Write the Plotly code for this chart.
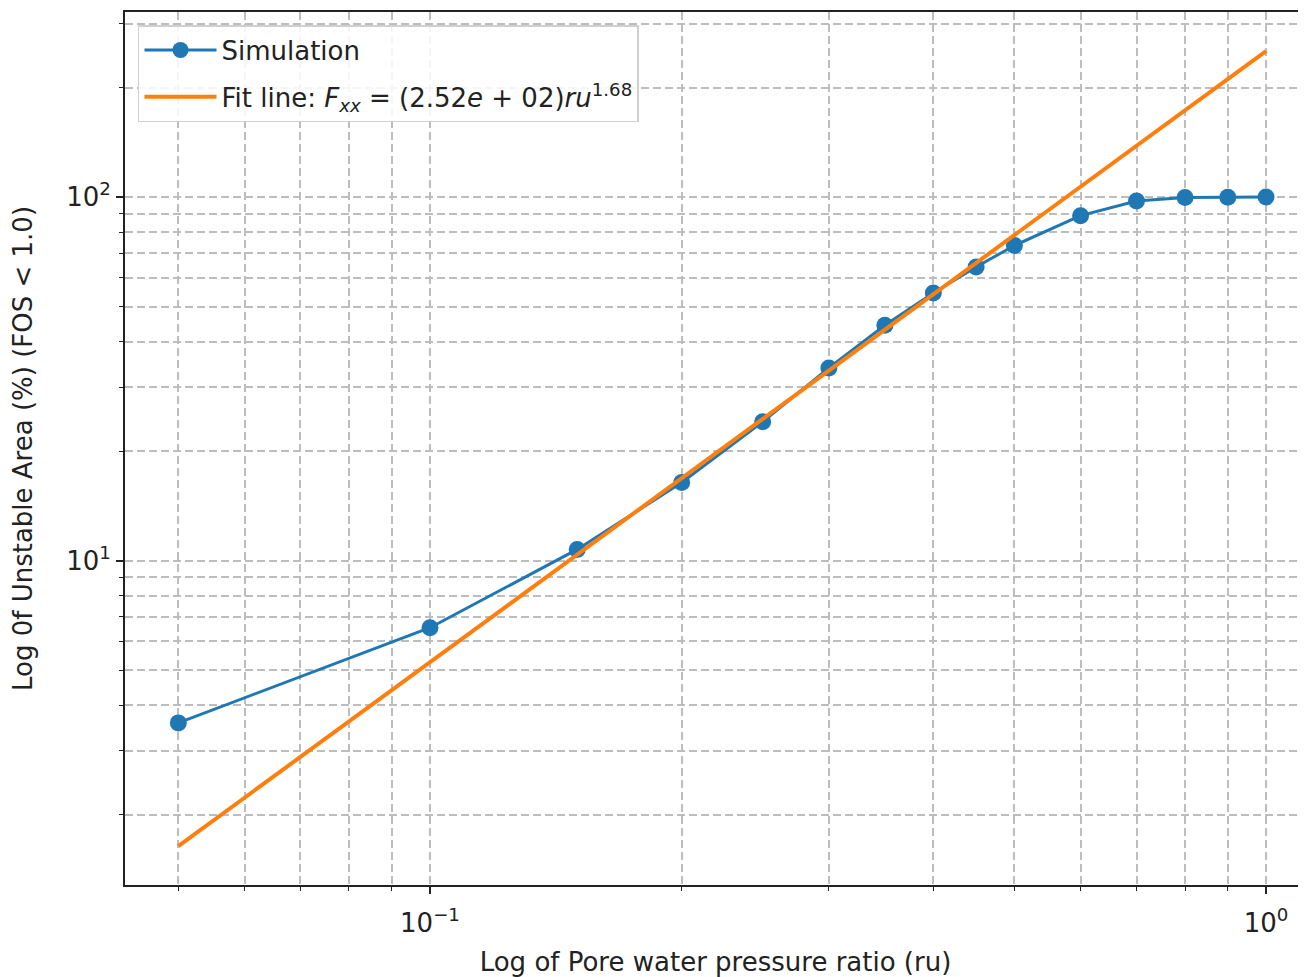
import plotly.graph_objects as go

# ---- data ----
ru = [0.05, 0.10, 0.15, 0.20, 0.25, 0.30, 0.35, 0.40, 0.45, 0.50, 0.60, 0.70, 0.80, 0.90, 1.00]
unstable_area = [3.58, 6.54, 10.74, 16.4, 24.1, 33.9, 44.4, 54.5, 64.2, 73.6, 88.9, 97.5, 99.8, 99.9, 100.0]
fit_x = [0.05, 1.00]
fit_y = [1.64, 252.0]

x_major = [0.1, 1.0]
x_major_text = ["10<sup>−1</sup>", "10<sup>0</sup>"]
x_minor = [0.05, 0.06, 0.07, 0.08, 0.09, 0.2, 0.3, 0.4, 0.5, 0.6, 0.7, 0.8, 0.9]
y_major = [10, 100]
y_major_text = ["10<sup>1</sup>", "10<sup>2</sup>"]
y_minor = [2, 3, 4, 5, 6, 7, 8, 9, 20, 30, 40, 50, 60, 70, 80, 90, 200, 300]

FONT = "DejaVu Sans"
TXT = "#222222"
GRID = "#bdbdbd"
DASH = "8px,4px"
FS = 26

fig = go.Figure()
fig.add_trace(go.Scatter(
    x=ru, y=unstable_area, mode="lines+markers", name="Simulation",
    legendgroup="sim",
    line=dict(color="#1f77b4", width=3),
    marker=dict(color="#1f77b4", size=17),
))
fig.add_trace(go.Scatter(
    x=fit_x, y=fit_y, mode="lines",
    legendgroup="fit",
    name="Fit line: <i>F<sub>xx</sub></i> = (2.52<i>e</i> + 02)<i>ru</i><sup>1.68</sup>",
    line=dict(color="#ff7f0e", width=4),
))

fig.update_layout(
    width=1298, height=969,
    margin=dict(l=117, r=0, t=4, b=92),
    paper_bgcolor="white", plot_bgcolor="white",
    font=dict(family=FONT, size=FS, color=TXT),
    showlegend=True,
    legend=dict(
        x=0.011, y=0.985, xanchor="left", yanchor="top",
        bgcolor="rgba(255,255,255,0.85)", bordercolor="#d0d0d0", borderwidth=1.5,
        font=dict(family=FONT, size=FS, color=TXT),
        itemwidth=72, tracegroupgap=10,
    ),
)

fig.update_xaxes(
    type="log", range=[-1.3648, 0.0478],
    tickmode="array", tickvals=x_major, ticktext=x_major_text,
    ticks="outside", ticklen=7, tickwidth=1.5, tickcolor="#222",
    ticklabelstandoff=7,
    showline=True, linecolor="#222", linewidth=2, mirror=True,
    showgrid=True, gridcolor=GRID, gridwidth=1.5, griddash=DASH,
    minor=dict(tickvals=x_minor, ticks="outside", ticklen=4, tickwidth=1.2, tickcolor="#222",
               showgrid=True, gridcolor=GRID, gridwidth=1.5, griddash=DASH),
    zeroline=False,
    tickfont=dict(family=FONT, size=FS, color=TXT),
    title=dict(text="Log of Pore water pressure ratio (ru)", font=dict(family=FONT, size=FS, color=TXT), standoff=16),
    automargin=False,
)
fig.update_yaxes(
    type="log", range=[0.108, 2.509],
    tickmode="array", tickvals=y_major, ticktext=y_major_text,
    ticks="outside", ticklen=7, tickwidth=1.5, tickcolor="#222",
    showline=True, linecolor="#222", linewidth=2, mirror=False,
    showgrid=True, gridcolor=GRID, gridwidth=1.5, griddash=DASH,
    minor=dict(tickvals=y_minor, ticks="outside", ticklen=4, tickwidth=1.2, tickcolor="#222",
               showgrid=True, gridcolor=GRID, gridwidth=1.5, griddash=DASH),
    zeroline=False,
    tickfont=dict(family=FONT, size=FS, color=TXT),
    title=dict(text="Log 0f Unstable Area (%) (FOS < 1.0)", font=dict(family=FONT, size=FS, color=TXT), standoff=34),
    automargin=False,
)

fig.write_html("out.html")
